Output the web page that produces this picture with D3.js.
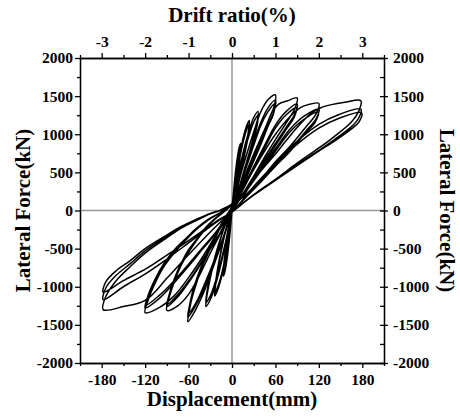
<!DOCTYPE html>
<html>
<head>
<meta charset="utf-8">
<script src="https://cdn.jsdelivr.net/npm/d3@7.9.0/dist/d3.min.js"></script>
<style>
  html, body { margin: 0; padding: 0; background: #fff; }
  svg { display: block; }
  svg text { font-family: "Liberation Serif", "Times New Roman", serif !important; font-weight: bold; fill: #000; }
</style>
</head>
<body>
<svg id="chart" width="460" height="419"></svg>
<script>
// axis ranges and ticks
const dispDomain = [-210, 210];
const forceDomain = [-2000, 2000];
const driftDomain = [-3.5, 3.5];
const dispTicks = [-180, -120, -60, 0, 60, 120, 180];
const dispMinor = [-210, -150, -90, -30, 30, 90, 150, 210];
const forceTicks = [-2000, -1500, -1000, -500, 0, 500, 1000, 1500, 2000];
const forceMinor = [-1750, -1250, -750, -250, 250, 750, 1250, 1750];
const driftTicks = [-3, -2, -1, 0, 1, 2, 3];
const driftMinor = [-3.5, -2.5, -1.5, -0.5, 0.5, 1.5, 2.5, 3.5];

// hysteresis cycles, [displacement mm, force kN], in loading order
const loop6 = [[0,0],[1.5,160],[3,300],[4.5,420],[6,500],[5.5,420],[4,280],[2,130],[0,-10],[-1.5,-150],[-3,-285],[-4.5,-400],[-6,-480],[-5.5,-400],[-4,-270],[-2,-120],[-0.5,0]];
const loop12a = [[2,230],[4,430],[6,600],[8,730],[10,830],[12,880],[11.5,780],[10,640],[8,480],[6,340],[4,210],[2,90],[0,-10],[-2,-220],[-4,-415],[-6,-580],[-8,-710],[-10,-810],[-12,-860],[-11.5,-760],[-10,-620],[-8,-470],[-6,-330],[-4,-200],[-2,-80],[-0.5,0]];
const loop12b = [[2,210],[4,400],[6,565],[8,695],[10,790],[12,840],[11.5,745],[10,610],[8,460],[6,325],[4,200],[2,85],[0,-10],[-2,-205],[-4,-395],[-6,-555],[-8,-680],[-10,-775],[-12,-820],[-11.5,-725],[-10,-590],[-8,-450],[-6,-315],[-4,-190],[-2,-75],[-0.5,0]];
const loop24a = [[3,250],[6,470],[9,650],[13,850],[17,1010],[21,1130],[24,1180],[23,1060],[20,890],[16,690],[12,500],[8,320],[4,140],[1,20],[0,-15],[-3,-230],[-6,-440],[-9,-620],[-13,-810],[-17,-960],[-21,-1070],[-24,-1120],[-23,-1000],[-21,-860],[-18,-690],[-15,-540],[-12,-400],[-8,-240],[-5,-120],[-2,-20],[-1,0]];
const loop24b = [[3,210],[6,420],[9,600],[13,800],[17,960],[21,1080],[24,1130],[23,1015],[20,855],[16,665],[12,480],[8,310],[4,135],[1,20],[0,-15],[-3,-215],[-6,-420],[-9,-595],[-13,-780],[-17,-925],[-21,-1030],[-24,-1080],[-23,-965],[-21,-830],[-18,-665],[-15,-520],[-12,-385],[-8,-230],[-5,-115],[-2,-20],[-1,0]];
const loop36a = [[4,230],[8,440],[12,620],[18,860],[24,1060],[30,1220],[36,1300],[35,1180],[31,1010],[24,760],[18,570],[12,370],[6,170],[2,30],[0,-20],[-4,-200],[-8,-400],[-12,-570],[-18,-810],[-24,-1010],[-30,-1170],[-36,-1260],[-35,-1140],[-32,-980],[-28,-800],[-24,-650],[-19,-480],[-14,-320],[-9,-180],[-5,-70],[-2,0]];
const loop36b = [[4,190],[8,380],[12,560],[18,800],[24,1000],[30,1160],[36,1250],[35,1130],[31,970],[24,730],[18,550],[12,360],[6,165],[2,30],[0,-20],[-4,-185],[-8,-375],[-12,-540],[-18,-770],[-24,-965],[-30,-1120],[-36,-1210],[-35,-1095],[-32,-940],[-28,-770],[-24,-625],[-19,-460],[-14,-310],[-9,-175],[-5,-65],[-2,0]];
const loop60a = [[6,242],[12,470],[20,727],[30,1030],[40,1300],[50,1455],[60,1515],[58,1360],[51,1200],[40,940],[30,700],[20,460],[10,220],[3,50],[0,-20],[-6,-190],[-12,-380],[-20,-585],[-30,-850],[-40,-1095],[-51,-1315],[-61,-1460],[-59,-1315],[-55,-1140],[-48,-920],[-41,-730],[-32,-540],[-24,-380],[-16,-220],[-9,-90],[-3,0]];
const loop60b = [[6,175],[12,360],[20,595],[30,885],[40,1160],[50,1350],[60,1450],[58,1300],[51,1150],[40,900],[30,670],[20,440],[10,210],[3,45],[0,-20],[-6,-180],[-12,-365],[-20,-560],[-30,-810],[-40,-1050],[-51,-1260],[-61,-1400],[-59,-1260],[-55,-1090],[-48,-880],[-41,-700],[-32,-520],[-24,-365],[-16,-210],[-9,-85],[-3,0]];
const loop60c = [[6,170],[12,350],[20,575],[30,855],[40,1120],[50,1300],[59,1400],[57,1260],[50,1110],[40,870],[30,650],[20,430],[10,205],[3,45],[0,-20],[-6,-175],[-12,-350],[-20,-540],[-30,-785],[-40,-1010],[-50,-1215],[-60,-1350],[-58,-1215],[-54,-1050],[-47,-850],[-40,-675],[-32,-500],[-24,-350],[-16,-200],[-9,-80],[-3,0]];
const loop90a = [[9,236],[18,458],[30,740],[45,1060],[56,1300],[65,1398],[76,1435],[90,1477],[87,1340],[77,1180],[60,930],[45,700],[30,450],[15,220],[4,50],[0,-20],[-9,-170],[-18,-340],[-30,-560],[-45,-850],[-60,-1100],[-75,-1250],[-90,-1310],[-87,-1150],[-81,-970],[-71,-735],[-60,-550],[-48,-380],[-36,-235],[-24,-118],[-14,-40],[-9,0]];
const loop90b = [[9,170],[18,350],[30,575],[45,855],[60,1120],[75,1300],[90,1400],[87,1270],[77,1120],[60,880],[45,665],[30,430],[15,210],[4,45],[0,-20],[-9,-165],[-18,-330],[-30,-505],[-45,-730],[-60,-945],[-75,-1135],[-90,-1260],[-87,-1110],[-81,-930],[-71,-705],[-60,-530],[-48,-365],[-36,-225],[-24,-113],[-14,-38],[-9,0]];
const loop90c = [[9,160],[18,335],[30,550],[45,820],[60,1080],[75,1255],[89,1350],[86,1225],[76,1080],[60,850],[45,640],[30,415],[15,205],[4,45],[0,-20],[-9,-160],[-18,-320],[-30,-490],[-45,-715],[-60,-925],[-75,-1105],[-89,-1230],[-86,-1080],[-80,-910],[-70,-690],[-60,-515],[-47,-355],[-36,-220],[-24,-110],[-14,-37],[-9,0]];
const loop120a = [[12,224],[24,434],[40,700],[60,1000],[80,1230],[94,1345],[104,1385],[120,1405],[116,1265],[102,1095],[80,840],[60,640],[40,410],[20,196],[6,42],[0,-20],[-12,-175],[-24,-350],[-40,-600],[-60,-880],[-80,-1120],[-100,-1270],[-120,-1340],[-116,-1180],[-108,-990],[-95,-750],[-80,-560],[-64,-390],[-48,-240],[-32,-120],[-18,-40],[-12,0]];
const loop120b = [[12,160],[24,330],[40,545],[60,810],[80,1065],[100,1240],[120,1330],[116,1200],[102,1040],[80,800],[60,600],[40,385],[20,185],[6,40],[0,-20],[-12,-160],[-24,-320],[-40,-500],[-60,-730],[-80,-950],[-100,-1150],[-120,-1280],[-116,-1125],[-108,-945],[-95,-715],[-80,-540],[-64,-370],[-48,-230],[-32,-115],[-18,-38],[-12,0]];
const loop120c = [[12,150],[24,310],[40,520],[60,780],[80,1030],[100,1200],[119,1290],[115,1160],[101,1010],[80,775],[60,580],[40,375],[20,180],[6,40],[0,-20],[-12,-150],[-24,-305],[-40,-480],[-60,-705],[-80,-920],[-100,-1110],[-119,-1240],[-115,-1090],[-107,-915],[-94,-695],[-80,-520],[-63,-360],[-48,-225],[-32,-110],[-18,-37],[-12,0]];
const loop180a = [[18,245],[36,475],[60,740],[89,1080],[110,1280],[122,1345],[136,1385],[156,1420],[178,1440],[175,1300],[165,1160],[140,960],[120,820],[90,620],[60,410],[30,210],[10,60],[0,-20],[-18,-170],[-36,-340],[-60,-580],[-89,-880],[-120,-1180],[-150,-1260],[-178,-1300],[-174,-1120],[-160,-920],[-141,-740],[-120,-560],[-95,-390],[-70,-230],[-48,-125],[-30,-45],[-17,0]];
const loop180b = [[18,200],[36,380],[60,620],[89,900],[120,1130],[148,1260],[178,1330],[175,1210],[165,1100],[140,920],[120,790],[90,600],[60,400],[30,205],[10,60],[0,-20],[-18,-130],[-36,-255],[-60,-425],[-89,-630],[-118,-820],[-150,-1000],[-178,-1170],[-174,-1010],[-160,-850],[-141,-700],[-120,-530],[-95,-370],[-70,-220],[-48,-115],[-30,-40],[-17,0]];
const loop180c = [[18,190],[36,360],[60,590],[89,860],[120,1080],[148,1210],[179,1280],[176,1170],[165,1070],[140,900],[120,780],[90,590],[60,395],[30,200],[10,55],[0,-20],[-18,-120],[-36,-235],[-60,-395],[-89,-580],[-118,-760],[-150,-920],[-178,-1070],[-174,-930],[-160,-790],[-141,-660],[-120,-500],[-95,-350],[-70,-210],[-48,-110],[-30,-38],[-16,0]];

const loops = [loop6, loop12a, loop12b, loop24a, loop24b, loop36a, loop36b,
  loop60a, loop60b, loop60c, loop90a, loop90b, loop90c,
  loop120a, loop120b, loop120c, loop180a, loop180b, loop180c];

const width = 460, height = 419;
const margin = { top: 58, right: 76, bottom: 56, left: 80 };
const serif = '"Liberation Serif", "Times New Roman", serif';

const svg = d3.select('#chart');

const x = d3.scaleLinear().domain(dispDomain).range([margin.left, width - margin.right]);
const xTop = d3.scaleLinear().domain(driftDomain).range([margin.left, width - margin.right]);
const y = d3.scaleLinear().domain(forceDomain).range([height - margin.bottom, margin.top]);

const fmt = d => String(d);

// zero lines
svg.append('line')
  .attr('x1', x(0)).attr('x2', x(0))
  .attr('y1', y(2000)).attr('y2', y(-2000))
  .attr('stroke', '#999').attr('stroke-width', 1.5);
svg.append('line')
  .attr('x1', x(-210)).attr('x2', x(210))
  .attr('y1', y(0)).attr('y2', y(0))
  .attr('stroke', '#999').attr('stroke-width', 1.5);

// hysteresis curve
const line = d3.line()
  .x(d => x(d[0]))
  .y(d => y(d[1]))
  .curve(d3.curveCatmullRom.alpha(0.5));

svg.append('path')
  .datum(loops.flat())
  .attr('d', line)
  .attr('fill', 'none')
  .attr('stroke', '#000')
  .attr('stroke-width', 1.5)
  .attr('stroke-linejoin', 'round');

function styleAxis(g) {
  g.attr('font-family', serif).attr('font-size', 15.5).attr('font-weight', 'bold');
  g.selectAll('.domain').attr('stroke', '#000').attr('stroke-width', 1.3);
  g.selectAll('.tick line').attr('stroke', '#000').attr('stroke-width', 1.3);
  g.selectAll('text').attr('fill', '#000');
}

// bottom axis
svg.append('g')
  .attr('transform', `translate(0,${height - margin.bottom})`)
  .call(d3.axisBottom(x).tickValues(dispMinor).tickSize(3).tickSizeOuter(0).tickFormat(''))
  .call(styleAxis);
svg.append('g')
  .attr('transform', `translate(0,${height - margin.bottom})`)
  .call(d3.axisBottom(x).tickValues(dispTicks).tickSize(5).tickPadding(6).tickSizeOuter(0).tickFormat(fmt))
  .call(styleAxis);

// top axis
svg.append('g')
  .attr('transform', `translate(0,${margin.top})`)
  .call(d3.axisTop(xTop).tickValues(driftMinor).tickSize(3).tickSizeOuter(0).tickFormat(''))
  .call(styleAxis);
svg.append('g')
  .attr('transform', `translate(0,${margin.top})`)
  .call(d3.axisTop(xTop).tickValues(driftTicks).tickSize(5).tickPadding(6).tickSizeOuter(0).tickFormat(fmt))
  .call(styleAxis);

// left axis
svg.append('g')
  .attr('transform', `translate(${margin.left},0)`)
  .call(d3.axisLeft(y).tickValues(forceMinor).tickSize(3).tickSizeOuter(0).tickFormat(''))
  .call(styleAxis);
svg.append('g')
  .attr('transform', `translate(${margin.left},0)`)
  .call(d3.axisLeft(y).tickValues(forceTicks).tickSize(5).tickPadding(2).tickSizeOuter(0).tickFormat(fmt))
  .call(styleAxis);

// right axis (ticks inward, labels outside)
svg.append('g')
  .attr('transform', `translate(${width - margin.right},0)`)
  .call(d3.axisRight(y).tickValues(forceTicks.concat(forceMinor)).tickSize(-4).tickSizeOuter(0).tickFormat(''))
  .call(styleAxis);
svg.append('g')
  .attr('transform', `translate(${width - margin.right},0)`)
  .call(d3.axisRight(y).tickValues(forceTicks).tickSize(4).tickPadding(5).tickSizeOuter(0).tickFormat(fmt))
  .call(styleAxis);

// titles
const titles = svg.append('g')
  .attr('font-family', serif).attr('font-size', 21).attr('font-weight', 'bold')
  .attr('text-anchor', 'middle');
titles.append('text')
  .attr('x', x(0)).attr('y', 22)
  .text('Drift ratio(%)');
titles.append('text')
  .attr('x', x(0)).attr('y', 406)
  .text('Displacement(mm)');
titles.append('text')
  .attr('transform', `translate(30,${y(0)}) rotate(-90)`)
  .text('Lateral Force(kN)');
titles.append('text')
  .attr('transform', `translate(440,${y(0)}) rotate(90)`)
  .text('Lateral Force(kN)');
</script>
</body>
</html>
